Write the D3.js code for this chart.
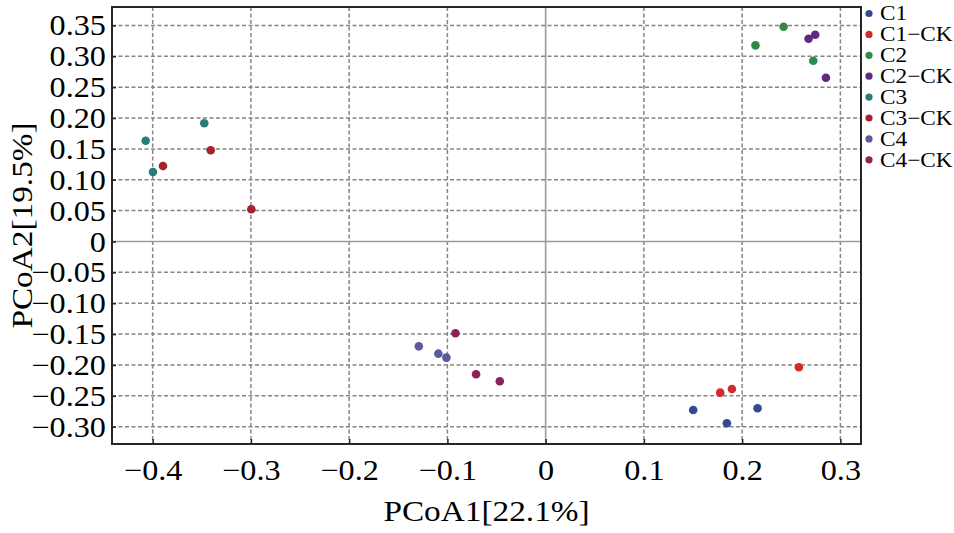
<!DOCTYPE html>
<html>
<head>
<meta charset="utf-8">
<script src="https://cdn.jsdelivr.net/npm/d3@7"></script>
<style>
  body { margin: 0; background: #fff; }
  svg text { font-family: "Liberation Serif", "Times New Roman", serif; fill: #000; }
</style>
</head>
<body>
<div id="canvas"></div>
<script>
// sample scores, [PCoA1, PCoA2]
const C1 = [[0.1502, -0.2729], [0.1845, -0.2944], [0.2157, -0.2702]];
const C1CK = [[0.2578, -0.2038], [0.1777, -0.2448], [0.1896, -0.2389]];
const C2 = [[0.2422, 0.3479], [0.2136, 0.3177], [0.2724, 0.2928]];
const C2CK = [[0.2676, 0.3284], [0.2744, 0.3349], [0.2853, 0.2653]];
const C3 = [[-0.4071, 0.1632], [-0.3997, 0.1126], [-0.3475, 0.1914]];
const C3CK = [[-0.3895, 0.1223], [-0.3409, 0.1477], [-0.2996, 0.0521]];
const C4 = [[-0.1291, -0.1698], [-0.1092, -0.1817], [-0.101, -0.1881]];
const C4CK = [[-0.0918, -0.1487], [-0.0708, -0.2151], [-0.0467, -0.2264]];

const groups = ["C1", "C1−CK", "C2", "C2−CK", "C3", "C3−CK", "C4", "C4−CK"];
const samples = [C1, C1CK, C2, C2CK, C3, C3CK, C4, C4CK];
const colors = ["#364a8f", "#d42a2c", "#2e8a45", "#5e2a80", "#2b7b7a", "#a3242d", "#5b5a9c", "#8e2156"];

const xTicks = [-0.4, -0.3, -0.2, -0.1, 0, 0.1, 0.2, 0.3];
const yTicks = [-0.3, -0.25, -0.2, -0.15, -0.1, -0.05, 0, 0.05, 0.1, 0.15, 0.2, 0.25, 0.3, 0.35];

const width = 954;
const height = 533;
const pLeft = 112, pRight = 861, pTop = 7, pBottom = 444;
const stretch = "scale(1.11,1)";

const fmt = (d, n) => d === 0 ? "0" : (d < 0 ? "−" : "") + Math.abs(d).toFixed(n);

const svg = d3.select("#canvas").append("svg")
  .attr("width", width)
  .attr("height", height);

const x = d3.scaleLinear().domain([-0.4414, 0.321]).range([pLeft, pRight]);
const y = d3.scaleLinear().domain([-0.328, 0.3798]).range([pBottom, pTop]);

// grid
svg.append("g").selectAll("line").data(xTicks.filter(d => d !== 0)).enter()
  .append("line")
  .attr("x1", d => x(d)).attr("x2", d => x(d))
  .attr("y1", pTop).attr("y2", pBottom)
  .attr("stroke", "#858585").attr("stroke-width", 1.5)
  .attr("stroke-dasharray", "4,2.5");

svg.append("g").selectAll("line").data(yTicks.filter(d => d !== 0)).enter()
  .append("line")
  .attr("x1", pLeft).attr("x2", pRight)
  .attr("y1", d => y(d)).attr("y2", d => y(d))
  .attr("stroke", "#858585").attr("stroke-width", 1.5)
  .attr("stroke-dasharray", "4,2.5");

// zero lines
svg.append("line")
  .attr("x1", x(0)).attr("x2", x(0)).attr("y1", pTop).attr("y2", pBottom)
  .attr("stroke", "#9a9a9a").attr("stroke-width", 1.6);
svg.append("line")
  .attr("x1", pLeft).attr("x2", pRight).attr("y1", y(0)).attr("y2", y(0))
  .attr("stroke", "#9a9a9a").attr("stroke-width", 1.6);

// axes
const xAxis = svg.append("g")
  .attr("transform", `translate(0, ${pBottom})`)
  .call(d3.axisBottom(x).tickValues(xTicks).tickSizeInner(-5).tickSizeOuter(0)
    .tickFormat(d => fmt(d, 1)));
xAxis.select(".domain").remove();
xAxis.selectAll(".tick line").attr("stroke", "#222").attr("stroke-width", 1.5);
xAxis.selectAll(".tick text")
  .attr("y", 36).attr("dy", 0)
  .attr("transform", stretch)
  .style("font-size", "29px");

const yAxis = svg.append("g")
  .attr("transform", `translate(${pLeft}, 0)`)
  .call(d3.axisLeft(y).tickValues(yTicks).tickSizeInner(-4).tickSizeOuter(0)
    .tickFormat(d => fmt(d, 2)));
yAxis.select(".domain").remove();
yAxis.selectAll(".tick line").attr("stroke", "#222").attr("stroke-width", 1.5);
yAxis.selectAll(".tick text")
  .attr("x", -5.5).attr("dy", "0.33em")
  .attr("transform", stretch)
  .style("font-size", "29px");

// frame
svg.append("rect")
  .attr("x", pLeft).attr("y", pTop)
  .attr("width", pRight - pLeft).attr("height", pBottom - pTop)
  .attr("fill", "none").attr("stroke", "#262626").attr("stroke-width", 2);

// points
samples.forEach((pts, i) => {
  svg.append("g").selectAll("circle").data(pts).enter()
    .append("circle")
    .attr("cx", d => x(d[0]))
    .attr("cy", d => y(d[1]))
    .attr("r", 4.3)
    .attr("fill", colors[i]);
});

// legend
const legend = svg.append("g").selectAll("g").data(groups).enter()
  .append("g")
  .attr("transform", (d, i) => `translate(869, ${13.5 + i * 20.9})`);
legend.append("circle").attr("r", 3.6).attr("fill", (d, i) => colors[i]);
legend.append("text")
  .attr("transform", `translate(11, 0) ${stretch}`)
  .attr("dy", "0.33em")
  .style("font-size", "21px")
  .text(d => d);

// axis titles
svg.append("text")
  .attr("transform", `translate(${(pLeft + pRight) / 2}, 521) ${stretch}`)
  .attr("text-anchor", "middle")
  .style("font-size", "30px")
  .text("PCoA1[22.1%]");

svg.append("text")
  .attr("transform", `translate(32, ${(pTop + pBottom) / 2}) rotate(-90) ${stretch}`)
  .attr("text-anchor", "middle")
  .style("font-size", "30px")
  .text("PCoA2[19.5%]");
</script>
</body>
</html>
